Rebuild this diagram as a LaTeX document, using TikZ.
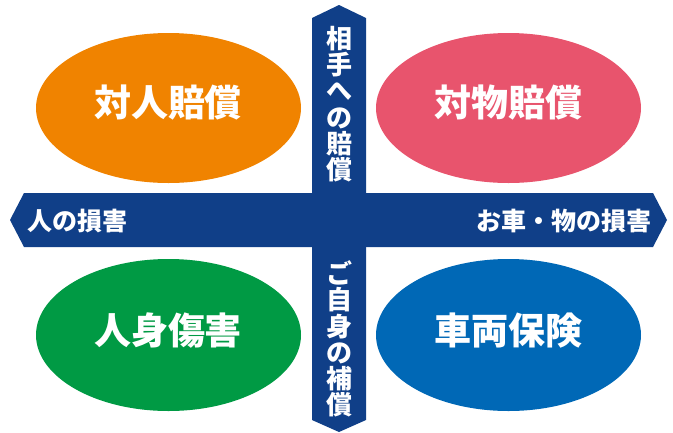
\documentclass[tikz,border=0pt]{standalone}
\usepackage{fontspec}
\setmainfont{Noto Sans CJK JP}
\begin{document}
\begin{tikzpicture}[x=1pt,y=-1pt,
  bigtext/.style={text=white,font=\fontsize{37}{37}\selectfont\bfseries,inner sep=0pt},
  bartext/.style={text=white,font=\fontsize{25}{25}\selectfont\bfseries,inner sep=0pt},
  vtext/.style={text=white,font=\fontsize{26}{26.3}\selectfont\bfseries,inner sep=0pt,align=center},
  oval/.style={ellipse,minimum width=265pt,minimum height=151pt,inner sep=0pt}]
\definecolor{navy}{RGB}{16,63,136}
\definecolor{orangeC}{RGB}{240,131,0}
\definecolor{pinkC}{RGB}{232,84,109}
\definecolor{greenC}{RGB}{0,154,68}
\definecolor{blueC}{RGB}{0,104,182}
\useasboundingbox (0,0) rectangle (673,432);
% bars
\fill[navy] (312,18) -- (339,5) -- (366,18) -- (366,420) -- (339,432) -- (312,420) -- cycle;
\fill[navy] (24,193) -- (653,193) -- (667,220) -- (653,247) -- (24,247) -- (10,220) -- cycle;
% ellipses
\fill[orangeC] (168.5,108) ellipse [x radius=132.5, y radius=75];
\fill[pinkC] (508.5,108) ellipse [x radius=132.5, y radius=75];
\fill[greenC] (168.5,335) ellipse [x radius=132.5, y radius=76];
\fill[blueC] (508.5,335) ellipse [x radius=132.5, y radius=76];
\node[bigtext] (a) at (168,103) {対人賠償};
\node[bigtext] (b) at (508,103) {対物賠償};
\node[bigtext] (c) at (168,331) {人身傷害};
\node[bigtext] (d) at (508,331) {車両保険};
\node[vtext] (t) at (339,104) {相\\手\\へ\\の\\賠\\償};
\node[vtext] (u) at (339,339) {ご\\自\\身\\の\\補\\償};
\node[bartext,anchor=west] (l) at (27,221) {人の損害};
\node[bartext,anchor=east] (r) at (652,221) {お車・物の損害};
\end{tikzpicture}
\end{document}
